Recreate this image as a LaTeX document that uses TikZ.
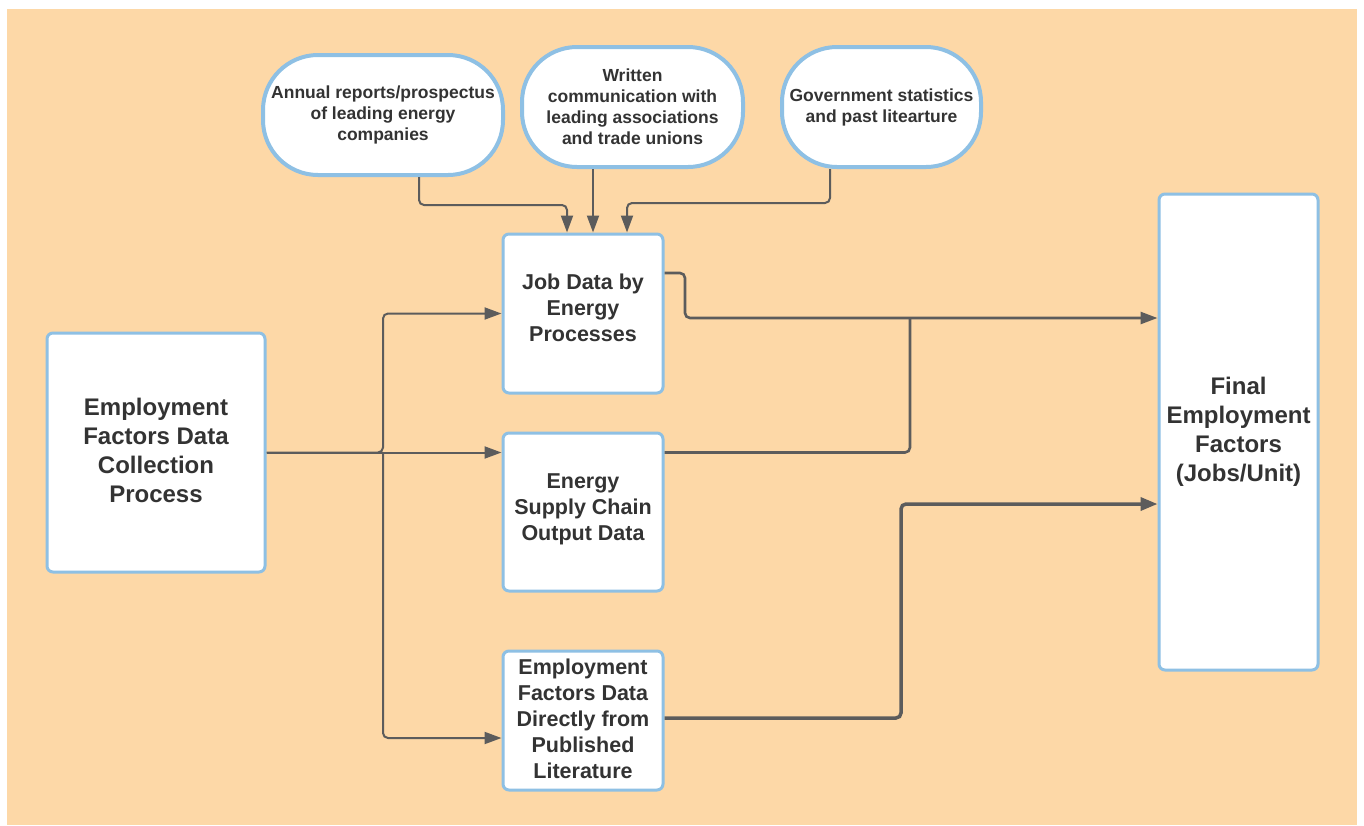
\documentclass[tikz,border=0pt]{standalone}
\usepackage{fontspec}
\setmainfont{Liberation Sans}
\usetikzlibrary{arrows.meta,calc}
\definecolor{bg}{HTML}{FDD8A7}
\definecolor{bord}{HTML}{8EC0E4}
\definecolor{ln}{HTML}{5C5C5C}
\definecolor{tx}{HTML}{333333}
\begin{document}
\begin{tikzpicture}[x=1pt,y=-1pt,
 box/.style={draw=bord,line width=3pt,fill=white,rounded corners=6pt,align=center,text=tx,inner sep=0pt},
 bigtext/.style={font=\fontsize{24}{29}\selectfont\bfseries},
 midtext/.style={font=\fontsize{21.5}{26}\selectfont\bfseries},
 term/.style={draw=bord,line width=4pt,fill=white,rounded corners=55pt,align=center,text=tx,inner sep=0pt,font=\fontsize{17.5}{21}\selectfont\bfseries},
 conn/.style={draw=ln,line width=2pt,rounded corners=5pt,-{Triangle[length=17pt,width=12pt]}},
 plain/.style={draw=ln,line width=2pt,rounded corners=5pt},
 thickconn/.style={conn,line width=3.5pt,-{Triangle[length=17pt,width=13pt]}},
 medconn/.style={conn,line width=2.6pt}]
\useasboundingbox (0,0) rectangle (1364,825);
\fill[white] (0,0) rectangle (1364,825);
\fill[bg] (7,9) rectangle (1357,825);

% boxes
\node[box,bigtext,minimum width=218pt,minimum height=239pt,text depth=4pt] (L) at (156,452.5) {Employment\\Factors Data\\Collection\\Process};
\node[box,midtext,minimum width=160pt,minimum height=159pt,text depth=12pt] (J) at (583,313.5) {Job Data by\\Energy\\Processes};
\node[box,midtext,minimum width=160pt,minimum height=158pt,text depth=10.5pt] (S) at (583,512) {Energy\\Supply Chain\\Output Data};
\node[box,midtext,minimum width=160pt,minimum height=139pt,text depth=4pt] (E) at (583,720.5) {Employment\\Factors Data\\Directly from\\Published\\Literature};
\node[box,bigtext,minimum width=159pt,minimum height=476pt] (F) at (1238.5,432) {Final\\Employment\\Factors\\(Jobs/Unit)};

% terminals
\node[term,minimum width=240pt,minimum height=120pt] (T1) at (383,115) {Annual reports/prospectus\\of leading energy\\companies};
\node[term,minimum width=221pt,minimum height=120pt] (T2) at (632.5,107) {Written\\communication with\\leading associations\\and trade unions};
\node[term,minimum width=199pt,minimum height=120pt] (T3) at (881.5,107) {Government statistics\\and past litearture};

% terminal connectors
\coordinate (a1) at (567,205);
\coordinate (a3) at (627,203);
\draw[conn] ([xshift=36pt]T1.south) |- (a1) -- (a1 |- J.north);
\draw[conn] ([xshift=-39.5pt]T2.south) -- ([xshift=-39.5pt]T2.south |- J.north);
\draw[conn] ([xshift=-51.5pt]T3.south) |- (a3) -- (a3 |- J.north);

% left fan-out
\coordinate (jn) at (383,452.5);
\draw[conn] (L.east) -- (jn) |- (J.west);
\draw[conn] (L.east) -- (L.east -| S.west);
\draw[conn] (jn) |- ([yshift=-17.5pt]E.west);

% to final
\coordinate (b1) at (685,318);
\coordinate (b2) at (910,318);
\coordinate (b3) at (901,504);
\draw[medconn] ([yshift=40.5pt]J.east) -| (b1) -- (b1 -| F.west);
\draw[plain,line width=2.6pt] (S.east |- L.east) -| (b2);
\draw[thickconn] ([yshift=2.5pt]E.east) -| (b3) -- (b3 -| F.west);
\end{tikzpicture}
\end{document}
